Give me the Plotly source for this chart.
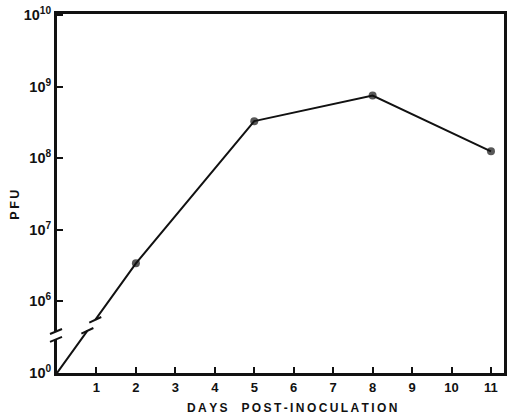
import numpy as np
import plotly.graph_objects as go

# ---- data ----
days = [0, 2, 5, 8, 11]
pfu = [1, 3.4e6, 3.3e8, 7.5e8, 1.25e8]
x_ticks = [1, 2, 3, 4, 5, 6, 7, 8, 9, 10, 11]
y_tick_pfu = [1, 1e6, 1e7, 1e8, 1e9, 1e10]
y_tick_text = ["10<sup>0</sup>", "10<sup>6</sup>", "10<sup>7</sup>",
               "10<sup>8</sup>", "10<sup>9</sup>", "10<sup>10</sup>"]
x_title = "DAYS  POST-INOCULATION"
y_title = "PFU"

# broken log axis: 10^0 .. 10^6 compressed into one decade
def to_disp(v):
    lv = np.log10(v)
    return lv if lv >= 6 else 5 + lv / 6.0

disp = [to_disp(v) for v in pfu]
y_tickvals = [to_disp(v) for v in y_tick_pfu]

Y_MIN, Y_MAX = 5.0, 10.015
X_MIN, X_MAX = 0.0, 11.33

INK = "#111111"
FONT = "Liberation Sans"

def spaced(s):
    # widen letter spacing with thin spaces
    return "\u2009".join(list(s))

fig = go.Figure()
fig.add_trace(go.Scatter(
    x=days, y=disp, mode="lines+markers",
    line=dict(color=INK, width=2),
    marker=dict(color=INK, size=[0, 8, 8, 8, 8], line=dict(width=0)),
    cliponaxis=False, showlegend=False, hoverinfo="skip"))

def px(xv):
    return (xv - X_MIN) / (X_MAX - X_MIN)

def py(yv):
    return (yv - Y_MIN) / (Y_MAX - Y_MIN)

shapes = []
# break on the data line
gap_x = [0.77, 0.97]
gap_y = list(np.interp(gap_x, days[:2], disp[:2]))
shapes.append(dict(type="line", xref="paper", yref="paper",
                   x0=px(gap_x[0]), y0=py(gap_y[0]),
                   x1=px(gap_x[1]), y1=py(gap_y[1]),
                   line=dict(color="white", width=5)))
for gx, gy in zip(gap_x, gap_y):
    shapes.append(dict(type="line", xref="paper", yref="paper",
                       xsizemode="pixel", ysizemode="pixel",
                       xanchor=px(gx), yanchor=py(gy),
                       x0=-6, x1=6, y0=-2.8, y1=2.8,
                       line=dict(color=INK, width=2)))
# break on the y axis
axis_gap = [5.47, 5.58]
shapes.append(dict(type="rect", xref="paper", yref="paper",
                   xsizemode="pixel", xanchor=0, x0=-5, x1=2,
                   y0=py(axis_gap[0]), y1=py(axis_gap[1]),
                   fillcolor="white", line=dict(width=0)))
for gy in axis_gap:
    shapes.append(dict(type="line", xref="paper", yref="paper",
                       xsizemode="pixel", ysizemode="pixel",
                       xanchor=0, yanchor=py(gy),
                       x0=-7, x1=5, y0=-2.5, y1=2.5,
                       line=dict(color=INK, width=2)))

fig.update_layout(
    width=512, height=419,
    margin=dict(l=57, r=5, t=11, b=46),
    paper_bgcolor="white", plot_bgcolor="white",
    font=dict(family=FONT, color=INK),
    shapes=shapes,
    xaxis=dict(range=[X_MIN, X_MAX], tickvals=x_ticks,
               ticktext=[str(t) for t in x_ticks],
               ticks="inside", ticklen=6, tickwidth=2, tickcolor=INK,
               showline=True, linewidth=3, linecolor=INK, mirror=True,
               showgrid=False, zeroline=False,
               tickfont=dict(family=FONT, size=13, weight=700, color=INK)),
    yaxis=dict(range=[Y_MIN, Y_MAX], tickvals=y_tickvals, ticktext=y_tick_text,
               ticks="inside", ticklen=6, tickwidth=2, tickcolor=INK,
               showline=True, linewidth=3, linecolor=INK, mirror=True,
               showgrid=False, zeroline=False,
               tickfont=dict(family=FONT, size=14.5, weight=700, color=INK)),
    annotations=[
        dict(text=spaced(x_title), xref="paper", yref="paper",
             x=0.526, y=-0.098, xanchor="center", yanchor="middle",
             showarrow=False,
             font=dict(family=FONT, size=12, weight=700, color=INK)),
        dict(text=spaced(y_title), xref="paper", yref="paper", textangle=-90,
             x=-0.093, y=0.47, xanchor="center", yanchor="middle",
             showarrow=False,
             font=dict(family=FONT, size=12.5, weight=700, color=INK)),
    ],
)

fig.write_html("out.html", config={"displayModeBar": False},
               post_script="document.body.style.margin='0';document.body.style.overflow='hidden';")
